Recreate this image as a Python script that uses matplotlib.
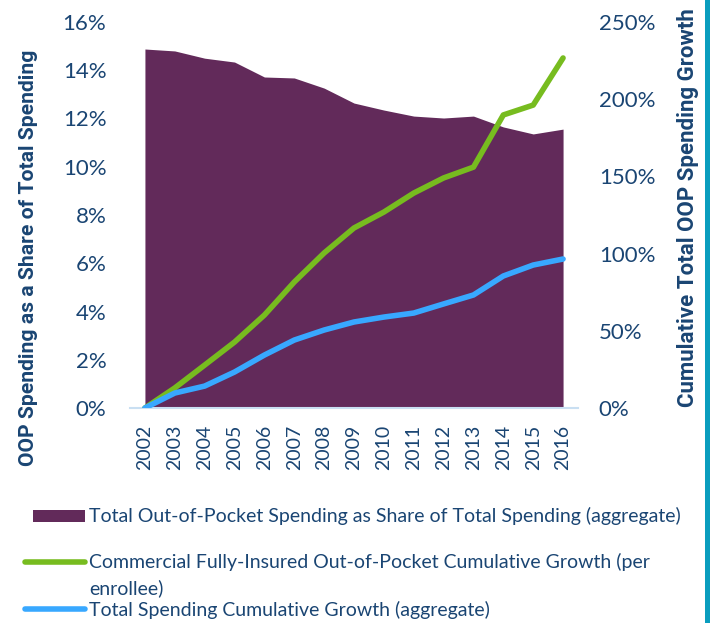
import matplotlib.pyplot as plt
from matplotlib.lines import Line2D
from matplotlib.patches import Rectangle
from matplotlib.ticker import PercentFormatter

plt.rcParams['font.family'] = ['Lato', 'DejaVu Sans']

years = [str(y) for y in range(2002, 2017)]
oop_share = [14.88, 14.80, 14.50, 14.34, 13.72, 13.68, 13.26, 12.64,
             12.35, 12.10, 12.02, 12.10, 11.65, 11.36, 11.56]
commercial_growth = [0, 13.0, 27.8, 42.7, 60.2, 81.6, 100.4, 116.6,
                     126.9, 139.2, 149.0, 156.0, 189.8, 196.2, 226.7]
total_growth = [0, 9.7, 14.2, 23.3, 34.3, 44.0, 50.5, 55.7,
                58.9, 61.5, 67.4, 73.2, 85.5, 92.6, 96.5]

purple = '#622A5A'
green = '#77BC1F'
blue = '#38A8FF'
navy = '#1A4573'

W, H = 711, 623
fig = plt.figure(figsize=(W / 100, H / 100), dpi=100)
ax = fig.add_axes([130 / W, 1 - 408 / H, 448 / W, 386 / H])
x = list(range(len(years)))

ax.fill_between(x, oop_share, 0, color=purple, lw=0)
ax.set_ylim(0, 16)
ax.set_xlim(-0.5, len(years) - 0.5)
ax.yaxis.set_major_formatter(PercentFormatter(decimals=0))
ax.set_yticks(range(0, 17, 2))
ax.set_xticks(x)
ax.set_xticklabels(years, rotation=90)
ax.tick_params(length=0, labelcolor=navy)
ax.tick_params(axis='y', labelsize=16, pad=17)
ax.tick_params(axis='x', labelsize=14, pad=12)
for s in ['top', 'right', 'left']:
    ax.spines[s].set_visible(False)
ax.spines['bottom'].set_color('#C9DFF2')
ax.spines['bottom'].set_linewidth(1.5)

label_kw = dict(fontweight='bold', color=navy, family=['Roboto', 'DejaVu Sans'])
ax.set_ylabel('OOP Spending as a Share of Total Spending', fontsize=15.2, **label_kw)
ax.yaxis.set_label_coords((38 - 130) / 448, (408 - 258) / 386)

ax2 = ax.twinx()
ax2.plot(x, commercial_growth, color=green, lw=4, solid_capstyle='round')
ax2.plot(x, total_growth, color=blue, lw=4, solid_capstyle='round')
ax2.set_ylim(0, 250)
ax2.yaxis.set_major_formatter(PercentFormatter(decimals=0))
ax2.set_yticks(range(0, 251, 50))
ax2.tick_params(length=0, labelsize=16, labelcolor=navy, pad=15)
for s in ax2.spines.values():
    s.set_visible(False)
ax2.set_ylabel('Cumulative Total OOP Spending Growth', fontsize=16, **label_kw)
ax2.yaxis.set_label_coords((677 - 130) / 448, (408 - 208) / 386)

# legend
fig.add_artist(Rectangle((33 / W, 1 - 522 / H), 52 / W, 12 / H,
                         transform=fig.transFigure, color=purple, lw=0))
fig.add_artist(Line2D([25 / W, 85 / W], [1 - 562 / H] * 2,
                      transform=fig.transFigure, color=green, lw=4,
                      solid_capstyle='round'))
fig.add_artist(Line2D([25 / W, 85 / W], [1 - 609 / H] * 2,
                      transform=fig.transFigure, color=blue, lw=4,
                      solid_capstyle='round'))
leg_kw = dict(fontsize=14, color=navy, va='center', ha='left')
fig.text(89 / W, 1 - 516 / H,
         'Total Out-of-Pocket Spending as Share of Total Spending (aggregate)', **leg_kw)
fig.text(89 / W, 1 - 562 / H,
         'Commercial Fully-Insured Out-of-Pocket Cumulative Growth (per', **leg_kw)
fig.text(89 / W, 1 - 588 / H, 'enrollee)', **leg_kw)
fig.text(89 / W, 1 - 610 / H,
         'Total Spending Cumulative Growth (aggregate)', **leg_kw)

# teal edge on the right
fig.add_artist(Rectangle((705 / W, 0), 5 / W, 1,
                         transform=fig.transFigure, color='#0A9DBE', lw=0))

fig.savefig('out.png', dpi=100)
